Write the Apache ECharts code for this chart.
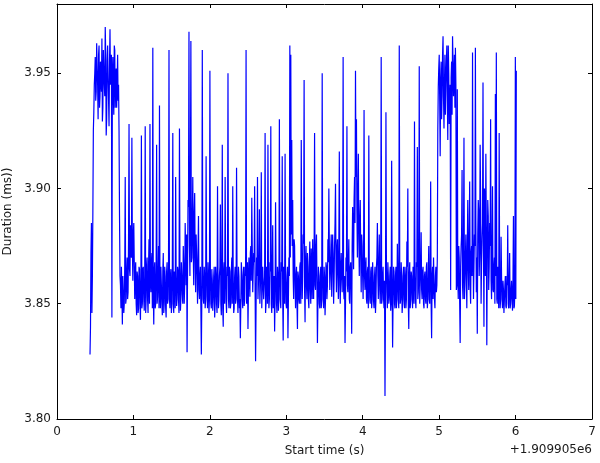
<!DOCTYPE html>
<html>
<head>
<meta charset="utf-8">
<script src="https://cdn.jsdelivr.net/npm/echarts@6/dist/echarts.min.js"></script>
<style>
html,body{margin:0;padding:0;background:#fff;}
#chart{width:600px;height:463px;}
</style>
</head>
<body>
<div id="chart"></div>
<script>
// Start time offset (s) of the first frame and the sampling period (s)
const T0 = 0.432;
const DT = 0.01245;
const xTicks = [0, 1, 2, 3, 4, 5, 6, 7];
const yTicks = [3.80, 3.85, 3.90, 3.95];
const xName = 'Start time (s)';
const yName = 'Duration (ms))';
const xOffsetText = '+1.909905e6';

// Frame durations (ms) (even frames)
const durations = [
3.828,3.872,3.846,3.890,3.933,3.950,3.938,3.963,3.945,3.958,
3.935,3.955,3.942,3.929,3.960,3.945,3.970,3.923,3.955,3.948,
3.927,3.969,3.950,3.844,3.957,3.932,3.960,3.945,3.935,3.958,
3.945,3.888,3.858,3.866,3.841,3.862,3.850,3.905,3.852,3.870,
3.855,3.928,3.862,3.878,3.922,3.860,3.885,3.852,3.868,3.845,
3.862,3.848,3.865,3.843,3.923,3.850,3.866,3.847,3.927,3.852,
3.870,3.846,3.878,3.928,3.855,3.872,3.961,3.841,3.868,3.850,
3.919,3.853,3.875,3.936,3.848,3.866,3.845,3.872,3.850,3.862,
3.844,3.868,3.852,3.960,3.848,3.865,3.850,3.924,3.846,3.862,
3.905,3.849,3.866,3.852,3.926,3.847,3.868,3.854,3.875,3.850,
3.885,3.858,3.829,3.895,3.968,3.862,3.964,3.870,3.905,3.858,
3.898,3.855,3.872,3.850,3.888,3.852,3.866,3.828,3.960,3.852,
3.866,3.848,3.914,3.853,3.868,3.846,3.951,3.850,3.865,3.847,
3.862,3.844,3.866,3.850,3.901,3.848,3.862,3.893,3.845,3.919,
3.840,3.868,3.905,3.852,3.866,3.950,3.848,3.864,3.850,3.870,
3.901,3.846,3.862,3.850,3.909,3.852,3.866,3.848,3.835,3.868,
3.852,3.862,3.849,3.866,3.960,3.852,3.839,3.870,3.853,3.875,
3.896,3.855,3.872,3.901,3.825,3.870,3.905,3.852,3.891,3.850,
3.907,3.848,3.866,3.852,3.924,3.850,3.864,3.919,3.848,3.868,
3.927,3.846,3.884,3.852,3.838,3.894,3.850,3.866,3.847,3.930,
3.852,3.868,3.914,3.834,3.866,3.915,3.850,3.862,3.835,3.870,
3.962,3.958,3.921,3.895,3.852,3.875,3.848,3.866,3.839,3.862,
3.850,3.868,3.921,3.852,3.880,3.947,3.842,3.875,3.852,3.866,
3.848,3.877,3.850,3.864,3.878,3.852,3.924,3.856,3.880,3.833,
3.866,3.850,3.862,3.848,3.950,3.852,3.866,3.845,3.868,3.852,
3.878,3.900,3.856,3.872,3.853,3.880,3.850,3.875,3.902,3.855,
3.878,3.852,3.916,3.850,3.872,3.855,3.957,3.852,3.833,3.870,
3.927,3.855,3.878,3.850,3.868,3.837,3.892,3.865,3.905,3.951,
3.930,3.870,3.915,3.862,3.895,3.855,3.875,3.852,3.934,3.856,
3.870,3.850,3.866,3.923,3.852,3.864,3.848,3.868,3.851,3.862,
3.846,3.866,3.885,3.852,3.880,3.850,3.957,3.852,3.866,3.848,
3.810,3.933,3.855,3.868,3.850,3.862,3.847,3.912,3.831,3.866,
3.850,3.862,3.848,3.876,3.852,3.962,3.850,3.868,3.846,3.862,
3.852,3.866,3.848,3.877,3.900,3.839,3.868,3.852,3.862,3.848,
3.866,3.929,3.852,3.868,3.918,3.855,3.953,3.850,3.881,3.852,
3.866,3.848,3.864,3.850,3.868,3.852,3.875,3.850,3.903,3.835,
3.866,3.870,3.852,3.862,3.855,3.870,3.944,3.958,3.914,3.955,
3.940,3.966,3.926,3.958,3.945,3.962,3.921,3.950,3.935,3.856,
3.955,3.966,3.940,3.958,3.961,3.856,3.943,3.852,3.870,3.833,
3.875,3.908,3.852,3.922,3.858,3.880,3.848,3.895,3.856,3.903,
3.850,3.875,3.959,3.852,3.880,3.961,3.855,3.837,3.895,3.862,
3.919,3.850,3.878,3.946,3.840,3.890,3.915,3.832,3.895,3.856,
3.885,3.930,3.852,3.901,3.855,3.870,3.941,3.959,3.850,3.862,
3.924,3.848,3.879,3.852,3.860,3.846,3.858,3.849,3.862,3.884,
3.848,3.872,3.850,3.860,3.847,3.888,3.849,3.957,3.951
];

// Frame durations (ms) of the frames in between (odd frames)
const durationsBetween = [
3.840,3.885,3.862,3.925,3.945,3.957,3.942,3.952,3.930,3.962,
3.940,3.948,3.965,3.935,3.952,3.940,3.958,3.930,3.962,3.938,
3.955,3.945,3.958,3.950,3.940,3.962,3.935,3.952,3.945,3.938,
3.925,3.862,3.848,3.855,3.862,3.846,3.866,3.850,3.864,3.852,
3.878,3.865,3.884,3.870,3.875,3.880,3.868,3.862,3.850,3.864,
3.846,3.866,3.850,3.862,3.848,3.865,3.852,3.862,3.846,3.866,
3.852,3.866,3.850,3.860,3.868,3.848,3.855,3.864,3.848,3.866,
3.850,3.862,3.848,3.855,3.866,3.850,3.864,3.846,3.866,3.848,
3.864,3.850,3.866,3.852,3.862,3.846,3.866,3.850,3.864,3.848,
3.862,3.852,3.864,3.846,3.866,3.852,3.862,3.850,3.866,3.858,
3.872,3.880,3.865,3.892,3.875,3.900,3.868,3.885,3.872,3.890,
3.868,3.880,3.862,3.872,3.856,3.862,3.848,3.852,3.864,3.850,
3.862,3.852,3.866,3.848,3.862,3.852,3.864,3.848,3.860,3.852,
3.866,3.850,3.862,3.846,3.864,3.852,3.866,3.850,3.862,3.848,
3.864,3.850,3.866,3.846,3.862,3.852,3.866,3.848,3.864,3.850,
3.862,3.848,3.866,3.852,3.864,3.846,3.862,3.852,3.850,3.864,
3.848,3.866,3.852,3.862,3.850,3.868,3.856,3.862,3.872,3.860,
3.875,3.864,3.868,3.856,3.848,3.862,3.852,3.866,3.850,3.864,
3.848,3.866,3.852,3.862,3.846,3.866,3.850,3.862,3.852,3.864,
3.850,3.866,3.848,3.862,3.852,3.864,3.846,3.862,3.852,3.866,
3.848,3.864,3.852,3.866,3.850,3.862,3.848,3.866,3.852,3.862,
3.870,3.880,3.875,3.862,3.878,3.858,3.862,3.850,3.864,3.852,
3.866,3.850,3.872,3.862,3.876,3.856,3.868,3.858,3.872,3.852,
3.868,3.856,3.874,3.852,3.866,3.870,3.858,3.874,3.860,3.850,
3.862,3.848,3.866,3.852,3.864,3.848,3.862,3.852,3.866,3.858,
3.868,3.875,3.862,3.880,3.866,3.872,3.860,3.885,3.868,3.874,
3.862,3.876,3.858,3.866,3.862,3.870,3.856,3.862,3.850,3.864,
3.858,3.868,3.852,3.866,3.856,3.875,3.880,3.895,3.885,3.905,
3.890,3.898,3.878,3.886,3.870,3.880,3.862,3.870,3.862,3.866,
3.852,3.864,3.848,3.862,3.850,3.866,3.852,3.862,3.848,3.866,
3.852,3.870,3.862,3.868,3.856,3.864,3.850,3.862,3.852,3.860,
3.850,3.866,3.848,3.862,3.852,3.866,3.850,3.862,3.852,3.864,
3.848,3.866,3.852,3.862,3.848,3.866,3.852,3.862,3.850,3.866,
3.848,3.862,3.852,3.866,3.850,3.862,3.848,3.864,3.852,3.866,
3.850,3.862,3.848,3.866,3.852,3.862,3.850,3.866,3.856,3.864,
3.850,3.862,3.852,3.866,3.848,3.862,3.852,3.866,3.850,3.862,
3.852,3.860,3.848,3.866,3.858,3.925,3.952,3.938,3.948,3.930,
3.958,3.940,3.945,3.932,3.955,3.940,3.962,3.928,3.945,3.948,
3.932,3.955,3.948,3.935,3.945,3.858,3.862,3.875,3.850,3.866,
3.880,3.858,3.874,3.852,3.870,3.862,3.875,3.866,3.880,3.858,
3.872,3.862,3.880,3.866,3.875,3.885,3.870,3.880,3.890,3.872,
3.895,3.868,3.885,3.875,3.900,3.862,3.882,3.870,3.888,3.866,
3.875,3.860,3.872,3.856,3.866,3.850,3.862,3.852,3.866,3.848,
3.858,3.852,3.862,3.848,3.856,3.852,3.862,3.848,3.858,3.850,
3.860,3.848,3.856,3.852,3.860,3.848,3.856,3.852
];

// Merge both frame sets in time order
const points = [];
durations.forEach((v, i) => {
  points.push([T0 + i * DT, v]);
  if (i < durationsBetween.length) points.push([T0 + (i + 0.5) * DT, durationsBetween[i]]);
});

const FONT = 'DejaVu Sans';
const TXT = '#1a1a1a';
const X_MIN = xTicks[0], X_MAX = xTicks[xTicks.length - 1];
const Y_MIN = yTicks[0], Y_MAX = 3.98, Y_STEP = 0.05;

const chart = echarts.init(document.getElementById('chart'), null, {renderer: 'canvas'});
const lineAxis = {show: true, onZero: false, lineStyle: {color: '#000', width: 1}};
const tickIn = {show: true, inside: true, length: 4, lineStyle: {color: '#000', width: 1}};

chart.setOption({
  animation: false,
  grid: {left: 57, right: 8, top: 4, bottom: 44, containLabel: false, outerBoundsMode: 'none'},
  xAxis: [{
    type: 'value', min: X_MIN, max: X_MAX, interval: 1, position: 'bottom',
    axisLine: lineAxis, axisTick: tickIn, splitLine: {show: false},
    axisLabel: {color: TXT, fontFamily: FONT, fontSize: 12, margin: 7},
    name: xName, nameLocation: 'middle', nameGap: 26,
    nameTextStyle: {color: TXT, fontFamily: FONT, fontSize: 12}
  }, {
    type: 'value', min: X_MIN, max: X_MAX, interval: 1, position: 'top',
    axisLine: lineAxis, axisTick: tickIn, splitLine: {show: false},
    axisLabel: {show: false}
  }],
  yAxis: [{
    type: 'value', min: Y_MIN, max: Y_MAX, interval: Y_STEP, position: 'left',
    axisLine: lineAxis, axisTick: tickIn, splitLine: {show: false},
    axisLabel: {
      color: TXT, fontFamily: FONT, fontSize: 12, margin: 6, showMaxLabel: false,
      formatter: v => (Math.abs(v / Y_STEP - Math.round(v / Y_STEP)) < 1e-6) ? v.toFixed(2) : ''
    },
    name: yName, nameLocation: 'middle', nameGap: 43, nameRotate: 90,
    nameTextStyle: {color: TXT, fontFamily: FONT, fontSize: 12}
  }, {
    type: 'value', min: Y_MIN, max: Y_MAX, interval: Y_STEP, position: 'right',
    axisLine: lineAxis, axisTick: tickIn, splitLine: {show: false},
    axisLabel: {show: false}
  }],
  graphic: [{
    type: 'text', right: 8, top: 444,
    style: {text: xOffsetText, fill: TXT, font: '12px "DejaVu Sans"'}
  }],
  series: [{
    type: 'line', xAxisIndex: 0, yAxisIndex: 0,
    data: points, showSymbol: false, symbol: 'none', sampling: null,
    lineStyle: {color: '#0000ff', width: 1.2},
    itemStyle: {color: '#0000ff'},
    emphasis: {disabled: true}
  }]
});
</script>
</body>
</html>
